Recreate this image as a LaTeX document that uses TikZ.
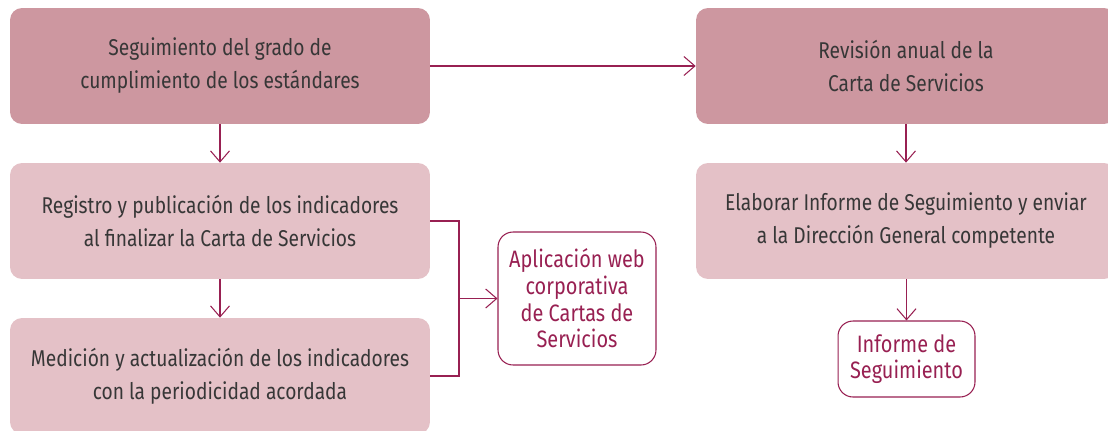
\documentclass[tikz,border=0pt]{standalone}
\usepackage{fontspec}
\setmainfont{Fira Sans}[FakeStretch=0.84]
\usepackage{tikz}
\usetikzlibrary{arrows.meta, positioning, calc}
\definecolor{cdark}{RGB}{205,151,160}
\definecolor{clight}{RGB}{228,193,199}
\definecolor{cline}{RGB}{152,32,82}
\definecolor{ctext}{RGB}{55,55,55}

\begin{document}
\begin{tikzpicture}[
    x=0.02cm, y=-0.02cm,
    >={Straight Barb[length=2.2mm, width=3.8mm]},
    bigbox/.style={rounded corners=0.24cm, minimum width=8.4cm, minimum height=2.32cm, align=center, text=ctext, font=\fontsize{13}{18.8}\selectfont},
    smallbox/.style={draw=cline, fill=white, rounded corners=0.3cm, line width=0.6pt, align=center, text=cline, font=\fontsize{13.5}{15.2}\selectfont},
    link/.style={cline, line width=0.6pt},
]
    \useasboundingbox (0,0) rectangle (1108,430);

    % Left column
    \node[bigbox, fill=cdark] (seg) at (220,66) {Seguimiento del grado de\\cumplimiento de los estándares};
    \node[bigbox, fill=clight] (reg) at (220,221) {Registro y publicación de los indicadores\\al finalizar la Carta de Servicios};
    \node[bigbox, fill=clight] (med) at (220,376) {Medición y actualización de los indicadores\\con la periodicidad acordada};

    % Web application
    \node[smallbox, minimum width=3.16cm, minimum height=2.66cm] (web) at (577,298.5) {Aplicación web\\corporativa\\de Cartas de\\Servicios};
    \coordinate (join) at (459,298.5);

    % Right column
    \node[bigbox, fill=cdark] (rev) at (906,66) {Revisión anual de la\\Carta de Servicios};
    \node[bigbox, fill=clight] (ela) at (906,221) {Elaborar Informe de Seguimiento y enviar\\a la Dirección General competente};
    \node[smallbox, minimum width=2.74cm, minimum height=1.52cm] (inf) at (906.5,359) {Informe de\\Seguimiento};

    % Arrows
    \draw[link, ->] (seg) -- (reg);
    \draw[link, ->] (reg) -- (med);
    \draw[link, ->] (seg) -- (rev);
    \draw[link, ->] (rev) -- (ela);
    \draw[link, ->] (ela.south -| inf) -- (inf);
    \draw[link] (reg.east) -- (reg.east -| join) -- (med.east -| join) -- (med.east);
    \draw[link, ->] (join) -- (web);
\end{tikzpicture}
\end{document}
